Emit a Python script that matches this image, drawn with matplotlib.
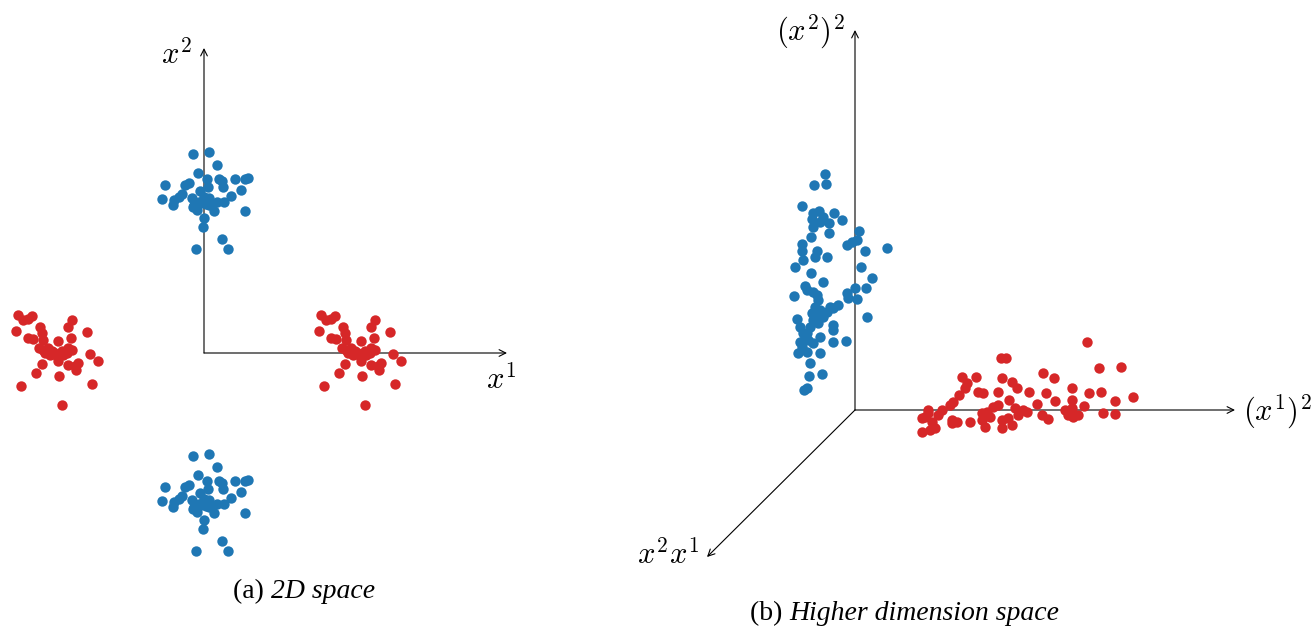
import matplotlib.pyplot as plt

plt.rcParams['mathtext.fontset'] = 'cm'
plt.rcParams['font.family'] = 'Liberation Serif'

BLUE = '#1f77b4'
RED = '#d62728'

# ---- left panel (2D space), 1 unit = 100 px ----
# cluster shape (offsets in px from the cluster centre), same shape for each colour
blue_dx = [-11, 5.3, 13.3, -5.7, 3.3, 15, 18.3, 31, 40.7, 44.3, -39.3, -19, -15, 4, 18.7,
           36.7, -4, -41.7, -30, -25, -21.7, -11.7, 0, 5, 26.7, 20, 13.3, -30.7, -10, -3.3,
           1.7, 8.3, -6.7, 10, 40.7, 0, -0.7, 18.3, -7.7, 24, -10.7, -5, 5]
blue_dy = [48.7, 50.7, 38.3, 29.7, 23.7, 23.7, 22.3, 23.7, 23.7, 25.3, 17.7, 17.7, 20.3, 16.3,
           16.3, 13, 12.3, 4, 3, 6.3, 9, 4.7, 6.3, 4.7, 7, 1.3, 1.3, -2.3, -2, -0.3,
           -1, -1, -7, -7.7, -7.7, -14.7, -24.3, -35.7, -45.7, -46.3, -3.7, 1.3, -2]
red_dx = [-36.7, -31.7, -26.7, -23.3, -39.3, -26.7, -21.7, -15, -13.3, -11.7, -15.7, -11.7,
          -6.7, -3.3, 0, 3.3, 6.7, 8.3, 13.3, 16.7, 17.3, 13.3, 15.7, 31.7, 35, 43.3, -13.3,
          -19, 4, 3.3, 13.3, 20, 23.3, 20.7, -34.3, 36.7, 6.7, -10, -5, 1.7, 11.7]
red_dy = [38.3, 33.3, 34.3, 36.7, 21.7, 15, 14, 25.7, 20, 13.3, 5, 3.3, 5, 1.7, 0, 11.7,
          1.7, -1.7, 5, 3.3, 33.3, 25.7, 15, 21, -1, -8.3, -10.7, -20, -23.3, -8.3, -11.7,
          -13.3, -10, -16.7, -33.3, -30.7, -51.7, 0, -1.7, -3.3, 0]
blue_centers = [(0.0, 1.50), (0.0, -1.52)]
red_centers = [(1.54, 0.0), (-1.49, 0.0)]

# ---- right panel (higher dimension space), projected positions, 1 unit = 100 px ----
hb_x = [-30, -40.7, -29.3, -53, -35.7, -42.7, -31.7, -20.7, -13.3, -26, -41.7, -26.3, -44.3,
        4, -8.3, -3.3, 1.7, 31.7, 10, -53.3, -53.3, -38.3, -40, -27.7, -51.7, -60, 5.7,
        -44.3, 16.7, -32.3, -50, -48.3, -41.7, -38.3, -60.7, -8.3, 0, 10.7, 1.7, -6.7,
        -16.7, -21.7, -28.3, -35, -38.3, -41.7, -57.7, -45, -55, -48.3, -35, -22.3, -21.7,
        -55, -41.7, -21.7, -9, -56.7, -48.3, -35, -45, -45.7, -33.3, -50.7, -47.7, 11.7,
        -36.7, -40, -43.3, -31.7, -50, -53.3, -51.7, -46.7, -36.7, -25, -41.7, -35]
hb_y = [235.7, 224.7, 226.3, 203.7, 199.3, 191.3, 193.3, 197.3, 189.7, 186.7, 183.3, 176.7,
        172.7, 179, 165, 168.3, 170, 161.7, 159, 166, 159.3, 159, 153.3, 153.3, 150, 143.3,
        143.3, 136.7, 131.7, 127.7, 124, 120, 118.3, 115, 114, 116.7, 121.7, 121.7, 110.7,
        111.7, 105, 101.7, 98.3, 100, 93.3, 90, 91.3, 83.3, 82.7, 76.7, 73.3, 85, 80, 68.3,
        66.7, 68.3, 69.3, 56.7, 58.3, 56.7, 46.7, 34, 36, 20, 21.7, 93.3, 110, 103.3, 96.7,
        93.3, 73.3, 63.3, 76.7, 70, 86.7, 103.3, 196.7, 188.3]
hr_x = [231.7, 146, 150.7, 244, 266, 188.3, 199, 106.7, 120.7, 147.3, 111.7, 156.7, 162.3,
        110, 104, 123.3, 128.3, 142.7, 174.3, 190.7, 216.7, 234.3, 246, 277.7, 260, 200,
        217.3, 98.3, 95, 154, 181.7, 229.3, 138.3, 143.3, 160, 168.3, 171.7, 131.7, 73.3,
        86.7, 83.3, 70, 66.7, 76.7, 96.7, 101.7, 115, 127.3, 135, 146.7, 153.3, 163.3,
        186.7, 213.3, 218.3, 223.3, 248.3, 260, 193.3, 130, 146.7, 156.7, 66.7, 75, 80,
        96.7, 73.3, 126.7, 210, 216.7]
hr_y = [68.3, 51.7, 51.7, 41.7, 42.7, 36.7, 31.7, 32.7, 33.3, 31.7, 26.7, 28.3, 21.7, 21.7,
        15, 17.7, 16.7, 17.7, 17.7, 17.3, 22.3, 16.7, 18.3, 13.3, 9.3, 9.3, 10, 8.3, 5, 10,
        6, 4, 3.3, 5, 1.7, 0, -1.7, -1.7, 0, 0, -5, -6.7, -8.3, -11.7, -10, -11.7, -11.7,
        -10, -7.3, -10, -8.3, -5, -5, -5, -6.7, -5, -3.3, -4, -9.3, -16.7, -18.3, -15,
        -21.7, -20, -18.3, -13.3, -3.3, -3.3, 0, 1.7]

W, H = 1313, 627
fig = plt.figure(figsize=(W / 100, H / 100), dpi=100)

arrow = dict(arrowstyle='->', lw=0.8, color='black', mutation_scale=12, shrinkA=0, shrinkB=0)
DOT = 56

# left axes: figure px 0..600, origin at px (204, 353)
ax1 = fig.add_axes([0, 0, 600 / W, 1])
ax1.set_xlim(-2.04, 3.96)
ax1.set_ylim(-2.74, 3.53)
ax1.axis('off')
ax1.annotate('', xy=(3.03, 0), xytext=(0, 0), arrowprops=arrow)
ax1.annotate('', xy=(0, 3.05), xytext=(0, 0), arrowprops=arrow)
for cx, cy in blue_centers:
    ax1.scatter([cx + d / 100 for d in blue_dx], [cy + d / 100 for d in blue_dy],
                s=DOT, color=BLUE, linewidths=0, zorder=3)
for cx, cy in red_centers:
    ax1.scatter([cx + d / 100 for d in red_dx], [cy + d / 100 for d in red_dy],
                s=DOT, color=RED, linewidths=0, zorder=3)
ax1.text(-0.27, 2.98, r'$x^2$', fontsize=22, ha='center', va='center')
ax1.text(2.97, -0.27, r'$x^1$', fontsize=22, ha='center', va='center')

# right axes: figure px 600..1313, origin at px (855, 410)
ax2 = fig.add_axes([600 / W, 0, 713 / W, 1])
ax2.set_xlim(-2.55, 4.58)
ax2.set_ylim(-2.17, 4.10)
ax2.axis('off')
ax2.annotate('', xy=(3.8, 0), xytext=(0, 0), arrowprops=arrow)
ax2.annotate('', xy=(0, 3.8), xytext=(0, 0), arrowprops=arrow)
ax2.annotate('', xy=(-1.48, -1.47), xytext=(0, 0), arrowprops=arrow)
ax2.scatter([v / 100 for v in hb_x], [v / 100 for v in hb_y], s=DOT, color=BLUE,
            linewidths=0, zorder=3)
ax2.scatter([v / 100 for v in hr_x], [v / 100 for v in hr_y], s=DOT, color=RED,
            linewidths=0, zorder=3)
ax2.text(-0.45, 3.78, r'$(x^2)^2$', fontsize=22, ha='center', va='center')
ax2.text(4.22, -0.02, r'$(x^1)^2$', fontsize=22, ha='center', va='center')
ax2.text(-1.87, -1.45, r'$x^2x^1$', fontsize=22, ha='center', va='center')

# captions
t1 = fig.text(233 / W, 1 - 598 / H, '(a) ', fontsize=20, va='baseline', ha='left')
ax1.annotate('2D space', xy=(1, 0), xycoords=t1, fontsize=20, style='italic',
             va='bottom', ha='left')
t2 = fig.text(750 / W, 1 - 620 / H, '(b) ', fontsize=20, va='baseline', ha='left')
ax2.annotate('Higher dimension space', xy=(1, 0), xycoords=t2, fontsize=20,
             style='italic', va='bottom', ha='left')

fig.savefig('out.png', dpi=100)
